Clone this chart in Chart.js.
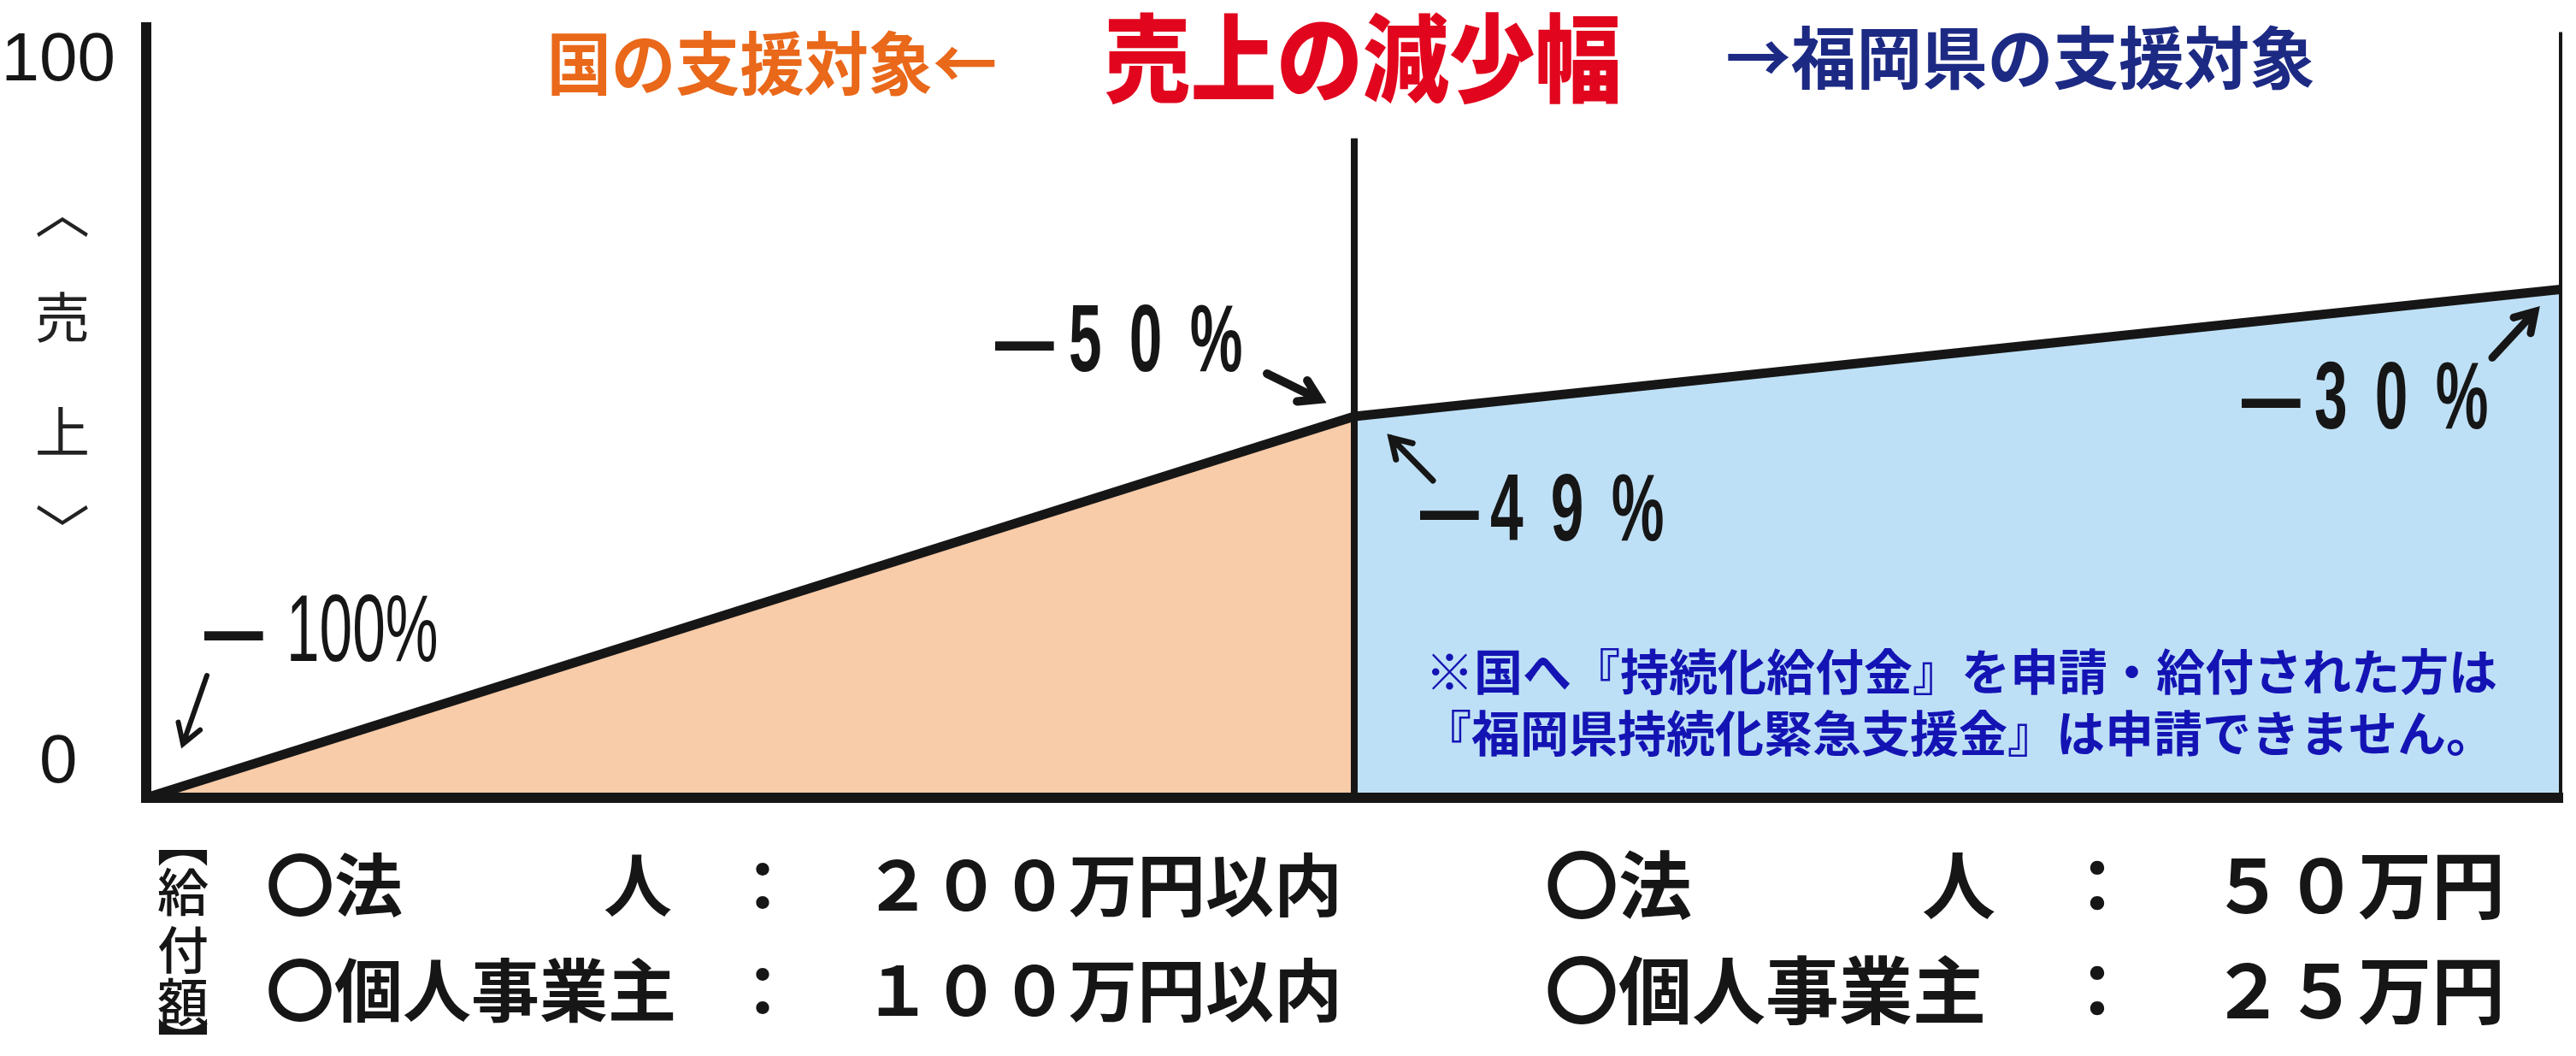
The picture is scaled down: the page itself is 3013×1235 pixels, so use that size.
<!DOCTYPE html>
<html lang="ja">
<head>
<meta charset="utf-8">
<title>売上の減少幅</title>
<script src="https://cdn.jsdelivr.net/npm/chart.js@4.4.1/dist/chart.umd.min.js"></script>
<style>
  html, body { margin: 0; padding: 0; background: #fff; }
  #wrap { width: 3013px; height: 1235px; }
</style>
</head>
<body>
<div id="wrap"><canvas id="chart" width="3013" height="1235"></canvas></div>
<script>
// 売上（0〜100）と減少幅：左が国の支援対象、右が福岡県の支援対象
const salesTicks = [0, 100];
const tickLabels = ['0', '100'];

const nationX = [0, 50];
const nationSales = [0, 49.5];
const prefX = [50, 100];
const prefSales = [49.5, 66];
const dividerX = [50, 50];
const dividerSales = [0, 85.6];
const edgeX = [100, 100];
const edgeSales = [0, 99.4];

const dropTexts = ['100%', '50%', '49%', '30%'];
const corpAmounts = ['２００万円以内', '５０万円'];
const soleAmounts = ['１００万円以内', '２５万円'];

const INK = '#161616';
const JP = '"Noto Sans CJK JP", "Noto Sans CJK SC", sans-serif';
const NUM = '"Liberation Sans", Arial, sans-serif';

const toPts = (xs, ys) => xs.map((x, i) => ({ x, y: ys[i] }));

function put(ctx, s, x, y, font, color, align, sx, ls, base) {
    ctx.save();
    ctx.font = font;
    ctx.fillStyle = color || INK;
    ctx.textAlign = align || 'left';
    ctx.textBaseline = base || 'middle';
    ctx.letterSpacing = (ls || 0) + 'px';
    ctx.translate(x, y);
    ctx.scale(sx || 1, 1);
    ctx.fillText(s, 0, 0);
    ctx.restore();
}

function arrow(ctx, x1, y1, x2, y2, w) {
    const a = Math.atan2(y2 - y1, x2 - x1), h = 26;
    ctx.save();
    ctx.strokeStyle = INK;
    ctx.lineWidth = w || 7;
    ctx.lineCap = 'round';
    ctx.beginPath();
    ctx.moveTo(x1, y1);
    ctx.lineTo(x2, y2);
    ctx.moveTo(x2 - h * Math.cos(a - 0.55), y2 - h * Math.sin(a - 0.55));
    ctx.lineTo(x2, y2);
    ctx.lineTo(x2 - h * Math.cos(a + 0.55), y2 - h * Math.sin(a + 0.55));
    ctx.stroke();
    ctx.restore();
}

// 減少率ラベル：太いダッシュ＋縦長の数字
function drop(ctx, dashX, base, numX, s, ls, weight) {
    put(ctx, '—', dashX, base, 'bold 109px ' + NUM, INK, 'left', 0.63, 0, 'alphabetic');
    put(ctx, s, numX, base, (weight || 'bold') + ' 112px ' + NUM, INK, 'left', 0.62, ls, 'alphabetic');
}

// 目盛ラベル「100」は軸の上端から下へ、「0」は基線の上に置く
const tickBaseline = {
    id: 'tickBaseline',
    beforeDraw(chart) {
        chart.scales.y.getLabelItems().forEach(it => {
            it.options.textBaseline = it.label === '0' ? 'bottom' : 'top';
        });
    }
};

const annotations = {
    id: 'annotations',
    afterDraw(chart) {
        const ctx = chart.ctx;
        const xs = chart.scales.x, ys = chart.scales.y;
        const px = (x, y) => [xs.getPixelForValue(x), ys.getPixelForValue(y)];

        // タイトル
        put(ctx, '国の支援対象←', 903, 74, 'bold 80px ' + JP, '#e9681a', 'center', 0.94);
        put(ctx, '売上の減少幅', 1594, 68, '900 112px ' + JP, '#e1061e', 'center', 0.9);
        put(ctx, '→福岡県の支援対象', 2363, 68, 'bold 79px ' + JP, '#1d2a84', 'center', 0.97);

        // 縦書きの軸名
        ['︿', '売', '上', '﹀'].forEach((c, i) => {
            put(ctx, c, 73, [248, 371, 505, 620][i], '64px ' + JP, '#222', 'center');
        });

        // 減少率
        const [ox, oy] = px(nationX[0], nationSales[0]);
        const [jx, jy] = px(nationX[1], nationSales[1]);
        const [ex, ey] = px(prefX[1], prefSales[1]);

        drop(ctx, ox + 68, oy - 160, ox + 164, dropTexts[0], 0, 'normal');
        arrow(ctx, ox + 71, oy - 143, ox + 43, oy - 63, 6);

        drop(ctx, jx - 420, jy - 53, jx - 334, dropTexts[1], 52);
        arrow(ctx, jx - 102, jy - 50, jx - 41, jy - 20, 10);

        drop(ctx, jx + 77, jy + 145, jx + 159, dropTexts[2], 52);
        arrow(ctx, jx + 92, jy + 75, jx + 43, jy + 25, 7);

        drop(ctx, ex - 375, ey + 163, ex - 290, dropTexts[3], 52);
        arrow(ctx, ex - 82, ey + 80, ex - 32, ey + 26, 9);

        // 注記
        put(ctx, '※国へ『持続化給付金』を申請・給付された方は', 2294, 785, 'bold 57px ' + JP, '#1414b4', 'center');
        put(ctx, '『福岡県持続化緊急支援金』は申請できません。', 2291, 857, 'bold 57px ' + JP, '#1414b4', 'center');

        // 給付額
        ['︻', '給', '付', '額', '︼'].forEach((c, i) => {
            put(ctx, c, 214, [984, 1043, 1111, 1172, 1220][i], '500 60px ' + JP, INK, 'center');
        });

        const L = 'bold 80px ' + JP, R = 'bold 86px ' + JP;
        put(ctx, '〇法', 311, 1035, L);
        put(ctx, '人', 786, 1035, L, INK, 'right');
        put(ctx, '：', 892, 1035, L, INK, 'center');
        put(ctx, corpAmounts[0], 1010, 1035, L);
        put(ctx, '〇個人事業主', 311, 1158, L);
        put(ctx, '：', 892, 1158, L, INK, 'center');
        put(ctx, soleAmounts[0], 1010, 1158, L);

        put(ctx, '〇法', 1807, 1035, R);
        put(ctx, '人', 2334, 1035, R, INK, 'right');
        put(ctx, '：', 2453, 1035, R, INK, 'center');
        put(ctx, corpAmounts[1], 2586, 1035, R);
        put(ctx, '〇個人事業主', 1807, 1158, R);
        put(ctx, '：', 2453, 1158, R, INK, 'center');
        put(ctx, soleAmounts[1], 2586, 1158, R);
    }
};

new Chart(document.getElementById('chart'), {
    type: 'line',
    data: {
        datasets: [
            { label: '区切り', data: toPts(dividerX, dividerSales), borderColor: INK, borderWidth: 8, pointRadius: 0, fill: false },
            { label: '右端', data: toPts(edgeX, edgeSales), borderColor: INK, borderWidth: 8, pointRadius: 0, fill: false },
            { label: '国の支援対象', data: toPts(nationX, nationSales), borderColor: INK, borderWidth: 11, backgroundColor: '#f8cba9', fill: 'origin', pointRadius: 0 },
            { label: '福岡県の支援対象', data: toPts(prefX, prefSales), borderColor: INK, borderWidth: 11, backgroundColor: '#bee0f6', fill: 'origin', pointRadius: 0 }
        ]
    },
    options: {
        responsive: false,
        animation: false,
        devicePixelRatio: 1,
        layout: { padding: { top: 32, right: 16, left: 0, bottom: 0 } },
        plugins: { legend: { display: false }, tooltip: { enabled: false } },
        scales: {
            x: {
                type: 'linear', min: 0, max: 100,
                grid: { display: false, drawTicks: false },
                ticks: { display: false },
                border: { color: INK, width: 12, z: 1 },
                afterFit: s => { s.height = 302; s.paddingLeft = 0; s.paddingRight = 0; }
            },
            y: {
                type: 'linear', min: 0, max: 100,
                afterBuildTicks: s => { s.ticks = salesTicks.map(v => ({ value: v })); },
                ticks: {
                    callback: (v, i) => tickLabels[i],
                    font: { family: '"Liberation Sans", Arial, sans-serif', size: 80 },
                    color: INK,
                    crossAlign: 'center',
                    padding: 36
                },
                grid: { display: false, drawTicks: false },
                border: { color: INK, width: 12, z: 1 },
                afterFit: s => { s.width = 171; s.paddingTop = 0; s.paddingBottom = 0; }
            }
        }
    },
    plugins: [tickBaseline, annotations]
});
</script>
</body>
</html>
